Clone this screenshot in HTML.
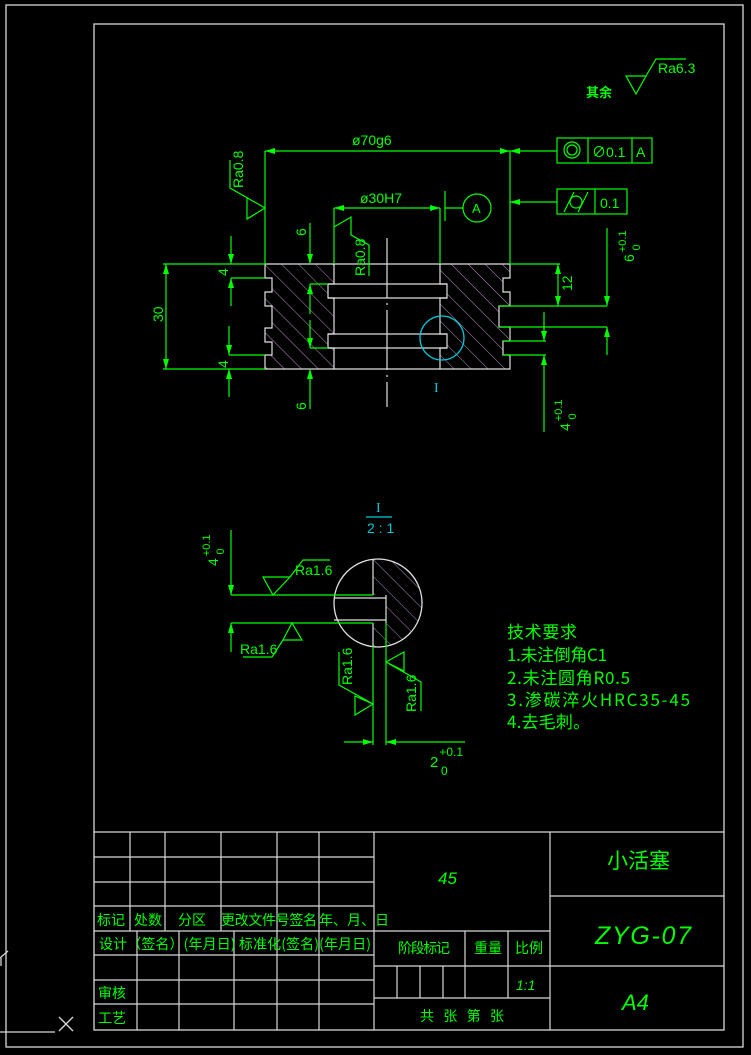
<!DOCTYPE html>
<html><head><meta charset="utf-8"><style>
html,body{margin:0;padding:0;background:#000;}
svg{display:block}
text{font-family:"Liberation Sans","Noto Sans CJK SC",sans-serif;fill:#00ff00;}
.cjk{font-family:"Noto Sans CJK SC","WenQuanYi Zen Hei",sans-serif;}
</style></head><body>
<svg width="751" height="1055" viewBox="0 0 751 1055" xmlns="http://www.w3.org/2000/svg">
<defs>
<pattern id="h" patternUnits="userSpaceOnUse" width="12" height="12" patternTransform="rotate(-45)">
<line x1="0" y1="0" x2="0" y2="12" stroke="#b890c0" stroke-width="1"/>
</pattern>
<marker id="a" viewBox="0 0 10 6" refX="10" refY="3" markerWidth="10" markerHeight="6" orient="auto-start-reverse" markerUnits="userSpaceOnUse"><path d="M0,0L10,3L0,6z" fill="#00ff00"/></marker>
<clipPath id="cc"><circle cx="378" cy="603" r="44"/></clipPath>
</defs>
<rect width="751" height="1055" fill="#000"/>
<g stroke="#d8d8d8" fill="none" stroke-width="1.3">
<rect x="6" y="5" width="737" height="1042"/>
<rect x="94" y="24" width="630" height="1006"/>
<line x1="0" y1="1032" x2="55" y2="1032"/>
<line x1="59" y1="1017" x2="73" y2="1031"/><line x1="73" y1="1017" x2="59" y2="1031"/>
<line x1="0" y1="958" x2="8" y2="951"/><line x1="1" y1="958" x2="1" y2="966"/>
</g>
<g stroke="#d8d8d8" stroke-width="1.2" fill="none">
<line x1="94" y1="832" x2="724" y2="832"/>
<line x1="94" y1="857" x2="374" y2="857"/>
<line x1="94" y1="882" x2="374" y2="882"/>
<line x1="94" y1="906" x2="374" y2="906"/>
<line x1="94" y1="931" x2="550" y2="931"/>
<line x1="94" y1="955" x2="374" y2="955"/>
<line x1="94" y1="980" x2="374" y2="980"/>
<line x1="94" y1="1004" x2="374" y2="1004"/>
<line x1="130" y1="832" x2="130" y2="931"/><line x1="165" y1="832" x2="165" y2="931"/>
<line x1="221" y1="832" x2="221" y2="931"/><line x1="277" y1="832" x2="277" y2="1030"/>
<line x1="319" y1="832" x2="319" y2="1030"/><line x1="374" y1="832" x2="374" y2="1030"/>
<line x1="137" y1="931" x2="137" y2="1030"/><line x1="179" y1="931" x2="179" y2="1030"/>
<line x1="234" y1="931" x2="234" y2="1030"/>
<line x1="550" y1="832" x2="550" y2="1030"/>
<line x1="374" y1="966" x2="724" y2="966"/><line x1="374" y1="998" x2="550" y2="998"/>
<line x1="550" y1="896" x2="724" y2="896"/>
<line x1="465" y1="931" x2="465" y2="998"/><line x1="508" y1="931" x2="508" y2="998"/>
<line x1="397" y1="966" x2="397" y2="998"/><line x1="420" y1="966" x2="420" y2="998"/><line x1="443" y1="966" x2="443" y2="998"/>
</g>
<g class="cjk" font-size="14">
<text x="97" y="925" class="cjk">标记</text><text x="134" y="925" class="cjk">处数</text>
<text x="178" y="925" class="cjk">分区</text><text x="221" y="925" class="cjk" textLength="96">更改文件号签名</text>
<text x="319" y="925" class="cjk">年、月、日</text>
<text x="99" y="949" class="cjk" textLength="272">设计（签名）(年月日) 标准化(签名)(年月日)</text>
<text x="98" y="998" class="cjk">审核</text><text x="98" y="1023" class="cjk">工艺</text>
<text x="398" y="953" class="cjk" textLength="52">阶段标记</text>
<text x="474" y="953" class="cjk">重量</text><text x="515" y="953" class="cjk">比例</text>
<text x="420" y="1021" class="cjk" textLength="100" style="letter-spacing:16px">共张第张</text>
</g>
<text x="438" y="884" font-size="17" font-style="italic">45</text>
<text x="516" y="990" font-size="14" font-style="italic">1:1</text>
<text x="607" y="868" font-size="21" class="cjk">小活塞</text>
<text x="595" y="944" font-size="25" font-style="italic" textLength="96">ZYG-07</text>
<text x="622" y="1010" font-size="22" font-style="italic">A4</text>
<g stroke="#00ff00" fill="none" stroke-width="1.2">
<path d="M626,76 L646,76 L636,94 Z M646,76 L656,59 L686,59"/>
</g>
<text x="658" y="73" font-size="14">Ra6.3</text>
<text x="586" y="97" font-size="13" class="cjk" font-weight="bold">其余</text>
<g fill="url(#h)" stroke="#e0e0e0" stroke-width="1.2">
<path d="M265,264 L334,264 L334,284 L328,284 L328,298 L334,298 L334,334 L328,334 L328,348 L334,348 L334,369 L265,369 L265,355 L272,355 L272,342 L265,342 L265,328 L272,328 L272,306 L265,306 L265,292 L272,292 L272,278 L265,278 Z"/>
<path d="M440,264 L510,264 L510,278 L503,278 L503,292 L510,292 L510,306 L499,306 L499,327 L510,327 L510,341 L503,341 L503,355 L510,355 L510,369 L440,369 L440,348 L447,348 L447,334 L440,334 L440,298 L447,298 L447,284 L440,284 Z"/>
</g>
<g stroke="#e0e0e0" stroke-width="1.2" fill="none">
<line x1="328" y1="284" x2="447" y2="284"/><line x1="328" y1="298" x2="447" y2="298"/>
<line x1="328" y1="334" x2="447" y2="334"/><line x1="328" y1="348" x2="447" y2="348"/>
<line x1="334" y1="264" x2="440" y2="264"/><line x1="334" y1="369" x2="440" y2="369"/>
<line x1="387" y1="238" x2="387" y2="407" stroke-dasharray="60,5,2,5"/>
</g>
<circle cx="442" cy="338" r="22" stroke="#00c8d8" fill="none" stroke-width="1.3"/>
<text x="434" y="392" font-size="14" style="fill:#00c8d8;font-family:'Liberation Serif',serif">I</text>
<g stroke="#00ff00" stroke-width="1.2" fill="none">
<line x1="265" y1="151" x2="265" y2="264"/><line x1="510" y1="151" x2="510" y2="264"/>
<line x1="265" y1="151" x2="510" y2="151" marker-start="url(#a)" marker-end="url(#a)"/>
<line x1="557" y1="151" x2="510" y2="151" marker-end="url(#a)"/>
<rect x="557" y="138" width="95" height="25"/><line x1="588" y1="138" x2="588" y2="163"/><line x1="632" y1="138" x2="632" y2="163"/>
<circle cx="572" cy="150" r="8"/><circle cx="572" cy="150" r="5"/>
<line x1="557" y1="202" x2="510" y2="202" marker-end="url(#a)"/>
<rect x="557" y="189" width="70" height="25"/><line x1="595" y1="189" x2="595" y2="214"/>
<circle cx="576" cy="202" r="6"/><line x1="564" y1="212" x2="574" y2="192"/><line x1="578" y1="212" x2="588" y2="192"/>
<line x1="334" y1="208" x2="334" y2="264"/><line x1="440" y1="208" x2="440" y2="264"/>
<line x1="334" y1="208" x2="440" y2="208" marker-start="url(#a)" marker-end="url(#a)"/>
<line x1="445" y1="191" x2="445" y2="221"/><line x1="445" y1="208" x2="463" y2="208"/>
<circle cx="477" cy="208" r="14"/>
<path d="M230,160 L230,188 L265,208 M247,198 L247,219 L265,208"/>
<path d="M334,227 L351,217 L351,235 L369,245 L369,276"/>
<line x1="163" y1="264" x2="265" y2="264"/><line x1="163" y1="369" x2="265" y2="369"/>
<line x1="166" y1="264" x2="166" y2="369" marker-start="url(#a)" marker-end="url(#a)"/>
<line x1="231" y1="278" x2="265" y2="278"/>
<line x1="231" y1="236" x2="231" y2="264" marker-end="url(#a)"/><line x1="231" y1="306" x2="231" y2="278" marker-end="url(#a)"/>
<line x1="229" y1="355" x2="265" y2="355"/>
<line x1="229" y1="326" x2="229" y2="355" marker-end="url(#a)"/><line x1="229" y1="397" x2="229" y2="369" marker-end="url(#a)"/>
<line x1="310" y1="284" x2="328" y2="284"/>
<line x1="310" y1="223" x2="310" y2="264" marker-end="url(#a)"/><line x1="310" y1="314" x2="310" y2="284" marker-end="url(#a)"/>
<line x1="310" y1="348" x2="328" y2="348"/>
<line x1="310" y1="320" x2="310" y2="348" marker-end="url(#a)"/><line x1="310" y1="409" x2="310" y2="369" marker-end="url(#a)"/>
<line x1="510" y1="264" x2="560" y2="264"/>
<line x1="499" y1="306" x2="607" y2="306"/><line x1="499" y1="327" x2="607" y2="327"/>
<line x1="558" y1="264" x2="558" y2="306" marker-start="url(#a)" marker-end="url(#a)"/>
<line x1="607" y1="228" x2="607" y2="306" marker-end="url(#a)"/><line x1="607" y1="355" x2="607" y2="327" marker-end="url(#a)"/>
<line x1="503" y1="341" x2="546" y2="341"/><line x1="503" y1="355" x2="546" y2="355"/>
<line x1="544" y1="312" x2="544" y2="341" marker-end="url(#a)"/><line x1="544" y1="432" x2="544" y2="355" marker-end="url(#a)"/>
</g>
<g font-size="14">
<text x="352" y="145">ø70g6</text>
<text x="360" y="203">ø30H7</text>
<text x="472" y="213" font-size="13">A</text>
<text x="592" y="157">∅0.1</text><text x="636" y="157">A</text>
<text x="600" y="208">0.1</text>
<text transform="translate(243,188) rotate(-90)">Ra0.8</text>
<text transform="translate(365,276) rotate(-90)">Ra0.8</text>
<text transform="translate(163,322) rotate(-90)">30</text>
<text transform="translate(228,276) rotate(-90)">4</text>
<text transform="translate(228,368) rotate(-90)">4</text>
<text transform="translate(306,236) rotate(-90)">6</text>
<text transform="translate(306,410) rotate(-90)">6</text>
<text transform="translate(572,291) rotate(-90)">12</text>
<text transform="translate(634,262) rotate(-90)">6<tspan dx="2" dy="-8" font-size="11">+0.1</tspan><tspan dx="-20" dy="14" font-size="11">0</tspan></text>
<text transform="translate(570,431) rotate(-90)">4<tspan dx="2" dy="-8" font-size="11">+0.1</tspan><tspan dx="-20" dy="14" font-size="11">0</tspan></text>
</g>
<g clip-path="url(#cc)">
<rect x="373" y="555" width="60" height="100" fill="url(#h)"/>
<rect x="330" y="595" width="56" height="28" fill="#000"/>
</g>
<circle cx="378" cy="603" r="44" fill="none" stroke="#e0e0e0" stroke-width="1.3"/>
<g stroke="#e0e0e0" stroke-width="1.2" fill="none">
<line x1="373" y1="559" x2="373" y2="595"/><line x1="373" y1="623" x2="373" y2="647"/>
<line x1="334" y1="598" x2="386" y2="598"/><line x1="334" y1="620" x2="386" y2="620"/>
<line x1="386" y1="595" x2="386" y2="623"/>
</g>
<g stroke="#00ff00" stroke-width="1.2" fill="none">
<line x1="231" y1="595" x2="373" y2="595"/><line x1="231" y1="623" x2="373" y2="623"/>
<line x1="231" y1="530" x2="231" y2="595" marker-end="url(#a)"/><line x1="231" y1="652" x2="231" y2="623" marker-end="url(#a)"/>
<line x1="373" y1="646" x2="373" y2="745"/><line x1="386" y1="623" x2="386" y2="745"/>
<line x1="344" y1="742" x2="373" y2="742" marker-end="url(#a)"/><line x1="465" y1="742" x2="386" y2="742" marker-end="url(#a)"/>
<path d="M263,577 L290,577 L273,595 Z M290,577 L303,560 L330,560"/>
<path d="M283,640 L302,640 L292,623 Z M283,640 L272,657 L243,657"/>
<path d="M373,704 L355,715 L355,696 Z M373,704 L339,685 L339,652"/>
<path d="M386,662 L404,652 L404,671 Z M386,662 L421,682 L421,711"/>
<line x1="366" y1="517" x2="392" y2="517" stroke="#00c8d8"/>
</g>
<g font-size="14">
<text x="376" y="512" style="fill:#00c8d8;font-family:'Liberation Serif',serif">I</text>
<text x="367" y="533" style="fill:#00c8d8">2 : 1</text>
<text x="295" y="575">Ra1.6</text>
<text x="240" y="654">Ra1.6</text>
<text transform="translate(352,685) rotate(-90)">Ra1.6</text>
<text transform="translate(416,712) rotate(-90)">Ra1.6</text>
<text x="430" y="767" font-size="15">2<tspan dx="1" dy="-11" font-size="12">+0.1</tspan><tspan dx="-22" dy="19" font-size="12">0</tspan></text>
<text transform="translate(218,566) rotate(-90)">4<tspan dx="2" dy="-8" font-size="11">+0.1</tspan><tspan dx="-20" dy="14" font-size="11">0</tspan></text>
</g>
<g font-size="17" class="cjk">
<text x="507" y="638" class="cjk" textLength="70">技术要求</text>
<text x="507" y="661" class="cjk" textLength="100">1.未注倒角C1</text>
<text x="507" y="684" class="cjk" textLength="123">2.未注圆角R0.5</text>
<text x="507" y="706" class="cjk" textLength="183">3.渗碳淬火HRC35-45</text>
<text x="507" y="728" class="cjk" textLength="83">4.去毛刺。</text>
</g>
</svg>
</body></html>
